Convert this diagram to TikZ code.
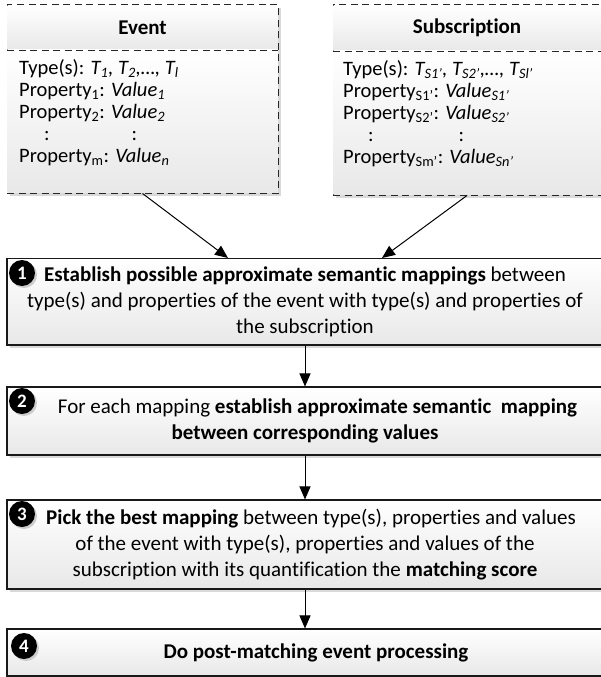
\documentclass[tikz,border=0pt]{standalone}
\usepackage{fontspec}
\setmainfont{Carlito}[Ligatures={TeX,NoCommon}]
\usepackage{tikz}
\usetikzlibrary{arrows.meta}
\usetikzlibrary{shadows}
\usetikzlibrary{positioning}
\tikzset{>={Triangle[length=13pt,width=11pt]}}
\newcommand{\stepfont}{\fontsize{21}{26}\selectfont}
\newcommand{\listfont}{\fontsize{20.5}{22}\selectfont}
\newcommand{\headfont}{\fontsize{21}{22}\selectfont\bfseries}
\newcommand{\numfont}{\fontsize{19}{19}\selectfont\bfseries}
\tikzstyle{boxshadow} = [drop shadow={shadow xshift=3pt, shadow yshift=-3pt, fill=black!15, opacity=1}]
\tikzstyle{grad} = [rectangle, inner sep=0, top color=white, bottom color=black!9]
\tikzstyle{dashline} = [draw=black!85, line width=1pt, dash pattern=on 7pt off 4.5pt]
\tikzstyle{dashbox} = [rectangle, dashline, fill=white, boxshadow, inner sep=0]
\tikzstyle{stepbox} = [grad, boxshadow, draw=black!90, line width=1.1pt, minimum width=596pt, align=center, font=\stepfont]
\tikzstyle{numdot} = [circle, fill=black, text=white, inner sep=0, minimum size=26pt, font=\numfont, drop shadow={shadow xshift=2pt, shadow yshift=-2pt, fill=black!20, opacity=1}]
\tikzstyle{listtext} = [anchor=north west, align=left, inner sep=0, font=\listfont]
\tikzstyle{flow} = [->, line width=1pt]

\begin{document}
\begin{tikzpicture}[x=1pt, y=-1pt]
\useasboundingbox (0,0) rectangle (600,677);
% event
\node [dashbox, minimum width=271pt, minimum height=188pt] (evbox) at (142.5, 99) {};
\node [grad, minimum width=270pt, minimum height=44.5pt, font=\headfont] (evhead) at (142.5, 27.75) {Event};
\node [grad, minimum width=270pt, minimum height=142.5pt] (evbody) at (142.5, 121.25) {};
\draw [dashline] (evhead.south west) -- (evhead.south east);
\node [listtext] (evlist) at (19, 59.5) {Type(s): \textit{T\textsubscript{1}, T\textsubscript{2},…, T\textsubscript{l}}\\
  Property\textsubscript{1}: \textit{Value\textsubscript{1}}\\
  Property\textsubscript{2}: \textit{Value\textsubscript{2}}\\
  \hspace*{25pt}:\hspace{82pt}:\\
  Property\textsubscript{m}: \textit{Value\textsubscript{n}}};
% subscription
\node [dashbox, minimum width=268pt, minimum height=190pt] (sbbox) at (467, 100) {};
\node [grad, minimum width=267pt, minimum height=45.5pt, font=\headfont] (sbhead) at (467, 28.25) {Subscription};
\node [grad, minimum width=267pt, minimum height=143.5pt] (sbbody) at (467, 122.75) {};
\draw [dashline] (sbhead.south west) -- (sbhead.south east);
\node [listtext] (sblist) at (343, 60.5) {Type(s): \textit{T\textsubscript{S1'}, T\textsubscript{S2'},…, T\textsubscript{Sl'}}\\
  Property\textsubscript{S1'}: \textit{Value\textsubscript{S1'}}\\
  Property\textsubscript{S2'}: \textit{Value\textsubscript{S2'}}\\
  \hspace*{25pt}:\hspace{85pt}:\\
  Property\textsubscript{Sm'}: \textit{Value\textsubscript{Sn'}}};
% steps
\node [stepbox, minimum height=86.5pt] (step1) at (305, 301.75) {\textbf{Establish possible approximate semantic mappings} between\\
  type(s) and properties of the event with type(s) and properties of\\
  the subscription};
\node [stepbox, minimum height=68pt] (step2) at (305, 421) {\hspace*{25pt}For each mapping \textbf{establish approximate semantic\ \ mapping}\\
  \textbf{between corresponding values}};
\node [stepbox, minimum height=89pt] (step3) at (305, 544.5) {\hspace*{12pt}\textbf{Pick the best mapping} between type(s), properties and values\\
  of the event with type(s), properties and values of the\\
  subscription with its quantification the \textbf{matching score}};
\node [stepbox, minimum height=47pt] (step4) at (305, 652.5) {\hspace*{22pt}\textbf{Do post-matching event processing}};
\node [numdot] (n1) at (22, 273) {1};
\node [numdot] (n2) at (22, 401) {2};
\node [numdot] (n3) at (22, 514) {3};
\node [numdot] (n4) at (24, 646) {4};
% connectors
\coordinate (s1l) at (228, 258);
\coordinate (s1r) at (382, 258);
\draw [flow] (evbox.south) -- (s1l);
\draw [flow] (sbbox.south) -- (s1r);
\draw [flow] (step1.south) -- (step2.north);
\draw [flow] (step2.south) -- (step3.north);
\draw [flow] (step3.south) -- (step4.north);
\end{tikzpicture}
\end{document}
